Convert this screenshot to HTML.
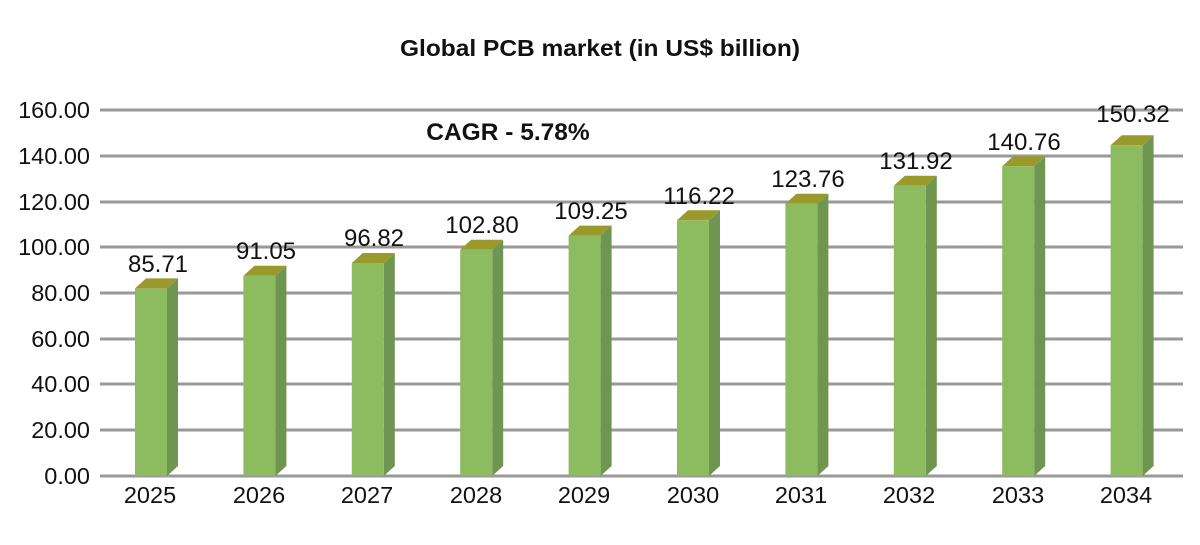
<!DOCTYPE html>
<html><head><style>
body{margin:0;background:#fff;width:1200px;height:540px;overflow:hidden}
text{font-family:"Liberation Sans",sans-serif}
</style></head><body>
<svg width="1200" height="540" xmlns="http://www.w3.org/2000/svg">
<text x="600" y="56" text-anchor="middle" font-size="23" font-weight="bold" fill="#111" textLength="400" lengthAdjust="spacingAndGlyphs">Global PCB market (in US$ billion)</text>
<g stroke="#999" stroke-width="3">
<line x1="100" x2="1183" y1="110" y2="110"/><line x1="100" x2="1183" y1="156" y2="156"/>
<line x1="100" x2="1183" y1="202" y2="202"/><line x1="100" x2="1183" y1="247" y2="247"/>
<line x1="100" x2="1183" y1="293" y2="293"/><line x1="100" x2="1183" y1="339" y2="339"/>
<line x1="100" x2="1183" y1="384" y2="384"/><line x1="100" x2="1183" y1="430" y2="430"/>
<line x1="100" x2="1183" y1="476" y2="476"/>
</g>
<g font-size="23.5" fill="#111" text-anchor="end">
<text x="90" y="118">160.00</text><text x="90" y="164">140.00</text><text x="90" y="210">120.00</text>
<text x="90" y="255">100.00</text><text x="90" y="301">80.00</text><text x="90" y="347">60.00</text>
<text x="90" y="392">40.00</text><text x="90" y="438">20.00</text><text x="90" y="484">0.00</text>
</g>
<text x="508" y="140" text-anchor="middle" font-size="24.5" font-weight="bold" fill="#111">CAGR - 5.78%</text>

<g>
<polygon points="167,288.4 178,278.4 178,466 167,476" fill="#6f9650"/><rect x="135" y="288.4" width="32" height="187.6" fill="#8dbb5f"/><polygon points="135,288.4 146,278.4 178,278.4 167,288.4" fill="#9a9a2c"/>
<polygon points="275.4,275.7 286.4,265.7 286.4,466 275.4,476" fill="#6f9650"/><rect x="243.4" y="275.7" width="32" height="200.3" fill="#8dbb5f"/><polygon points="243.4,275.7 254.4,265.7 286.4,265.7 275.4,275.7" fill="#9a9a2c"/>
<polygon points="383.8,263 394.8,253 394.8,466 383.8,476" fill="#6f9650"/><rect x="351.8" y="263" width="32" height="213" fill="#8dbb5f"/><polygon points="351.8,263 362.8,253 394.8,253 383.8,263" fill="#9a9a2c"/>
<polygon points="492.2,249.8 503.2,239.8 503.2,466 492.2,476" fill="#6f9650"/><rect x="460.2" y="249.8" width="32" height="226.2" fill="#8dbb5f"/><polygon points="460.2,249.8 471.2,239.8 503.2,239.8 492.2,249.8" fill="#9a9a2c"/>
<polygon points="600.6,235.6 611.6,225.6 611.6,466 600.6,476" fill="#6f9650"/><rect x="568.6" y="235.6" width="32" height="240.4" fill="#8dbb5f"/><polygon points="568.6,235.6 579.6,225.6 611.6,225.6 600.6,235.6" fill="#9a9a2c"/>
<polygon points="709,220.3 720,210.3 720,466 709,476" fill="#6f9650"/><rect x="677" y="220.3" width="32" height="255.7" fill="#8dbb5f"/><polygon points="677,220.3 688,210.3 720,210.3 709,220.3" fill="#9a9a2c"/>
<polygon points="817.4,203.7 828.4,193.7 828.4,466 817.4,476" fill="#6f9650"/><rect x="785.4" y="203.7" width="32" height="272.3" fill="#8dbb5f"/><polygon points="785.4,203.7 796.4,193.7 828.4,193.7 817.4,203.7" fill="#9a9a2c"/>
<polygon points="925.8,185.8 936.8,175.8 936.8,466 925.8,476" fill="#6f9650"/><rect x="893.8" y="185.8" width="32" height="290.2" fill="#8dbb5f"/><polygon points="893.8,185.8 904.8,175.8 936.8,175.8 925.8,185.8" fill="#9a9a2c"/>
<polygon points="1034.2,166.3 1045.2,156.3 1045.2,466 1034.2,476" fill="#6f9650"/><rect x="1002.2" y="166.3" width="32" height="309.7" fill="#8dbb5f"/><polygon points="1002.2,166.3 1013.2,156.3 1045.2,156.3 1034.2,166.3" fill="#9a9a2c"/>
<polygon points="1142.6,145.3 1153.6,135.3 1153.6,466 1142.6,476" fill="#6f9650"/><rect x="1110.6" y="145.3" width="32" height="330.7" fill="#8dbb5f"/><polygon points="1110.6,145.3 1121.6,135.3 1153.6,135.3 1142.6,145.3" fill="#9a9a2c"/>
</g>
<g font-size="24" fill="#111" text-anchor="middle">
<text x="158" y="272">85.71</text><text x="266" y="259">91.05</text><text x="374" y="246">96.82</text>
<text x="482" y="233">102.80</text><text x="591" y="219">109.25</text><text x="699" y="204">116.22</text>
<text x="808" y="187">123.76</text><text x="916" y="169">131.92</text><text x="1024" y="150">140.76</text>
<text x="1133" y="122">150.32</text>
</g>
<g font-size="23.5" fill="#111" text-anchor="middle">
<text x="150" y="503">2025</text><text x="259" y="503">2026</text><text x="367" y="503">2027</text>
<text x="476" y="503">2028</text><text x="584" y="503">2029</text><text x="693" y="503">2030</text>
<text x="801" y="503">2031</text><text x="909" y="503">2032</text><text x="1018" y="503">2033</text>
<text x="1126" y="503">2034</text>
</g>
</svg>
</body></html>
